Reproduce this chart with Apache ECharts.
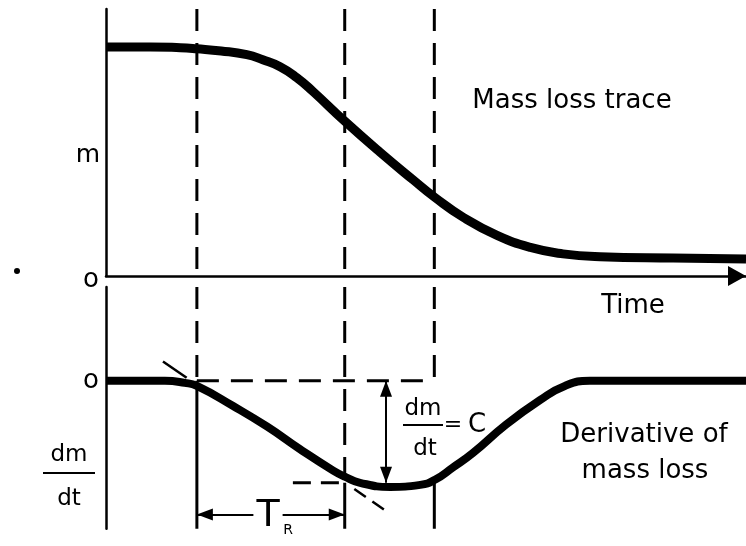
<!DOCTYPE html>
<html>
<head>
<meta charset="utf-8">
<script src="https://cdn.jsdelivr.net/npm/echarts@6/dist/echarts.min.js"></script>
<style>
html, body { margin: 0; padding: 0; background: #fff; }
#chart { width: 746px; height: 546px; }
</style>
</head>
<body>
<div id="chart"></div>
<script>
// mass loss trace, time in % of the sweep
var massTime  = [0, 6.9, 11.6, 14.2, 18, 22, 24.5, 27.2, 29.8, 32.3, 37.3, 42.8, 48, 51.4, 55.8, 61.1, 66.3, 71.4, 77.2, 88.6, 100];
var massValue = [85.8, 85.8, 85.5, 85.1, 84.3, 82.9, 81.0, 78.4, 74.3, 69.2, 58.0, 46.4, 36, 29.4, 22.0, 15.2, 10.7, 8.3, 7.2, 6.7, 6.4];

// derivative of mass loss
var rateTime  = [0, 9.2, 12.3, 14.2, 19.8, 25.2, 30.3, 35.5, 37.3, 39.7, 44.4, 49.1, 51.4, 54.2, 57.3, 62.5, 67.8, 71.7, 75.6, 100];
var rateValue = [0, 0, -0.2, -0.5, -2.45, -4.5, -6.7, -8.8, -9.4, -10.0, -10.4, -10.2, -9.7, -8.5, -7.1, -4.3, -1.9, -0.5, 0, 0];

// the three reference times and the two rate levels
var markTimes = [14.2, 37.3, 51.3];
var levelZero = 0;
var levelC = -10;
var levelCStart = 29.2;

// tangent at the start of the reaction (only the ends show)
var tangentA = [[8.9, 1.9], [12.6, 0.3]];
var tangentB = [[38.8, -10.6], [43.6, -12.7]];

// arrows: dm/dt = C and tau_R
var arrowTime = 43.75;
var tauLevel = -13.1;

var topMin = 0, topMax = 100;
var botMin = -14.5, botMax = 9.2;

function pairs(xs, ys) {
	var out = [];
	for (var i = 0; i < xs.length; i++) out.push([xs[i], ys[i]]);
	return out;
}

var font = 'DejaVu Sans';
var ink = '#000';
var dash = [22, 12];

function seg(data, grid, width, type, z) {
	return {
		type: 'line',
		xAxisIndex: grid, yAxisIndex: grid,
		data: data,
		symbol: 'none',
		silent: true,
		z: z || 2,
		lineStyle: { color: ink, width: width, type: type }
	};
}

function curve(xs, ys, grid, width) {
	return {
		type: 'line',
		xAxisIndex: grid, yAxisIndex: grid,
		data: pairs(xs, ys),
		smooth: 0.5,
		smoothConstraint: false,
		symbol: 'none',
		silent: true,
		z: 5,
		lineStyle: { color: ink, width: width, cap: 'butt', join: 'round' }
	};
}

var series = [];

series.push(curve(massTime, massValue, 0, 9));

var rate = curve(rateTime, rateValue, 1, 8);
rate.markLine = {
	silent: true,
	symbol: ['triangle', 'triangle'],
	symbolSize: [12, 16],
	symbolOffset: [[0, 8], [0, 8]],
	label: { show: false },
	lineStyle: { color: ink, width: 2, type: 'solid' },
	data: [
		[{ coord: [arrowTime, levelZero] }, { coord: [arrowTime, levelC] }],
		[{ coord: [markTimes[0], tauLevel] }, { coord: [markTimes[1], tauLevel] }]
	]
};
series.push(rate);

// dashed verticals in the top panel
markTimes.forEach(function (t) {
	series.push(seg([[t, topMax], [t, 1.5]], 0, 3, dash));
});

// verticals in the bottom panel: dashed above, solid below
var dashEnds = [levelZero, levelC, levelZero];
var solidStarts = [levelZero, levelC, levelC];
markTimes.forEach(function (t, i) {
	series.push(seg([[t, botMax], [t, dashEnds[i]]], 1, 3, dash));
	series.push(seg([[t, solidStarts[i]], [t, botMin]], 1, 3, 'solid'));
});

series.push(seg([[markTimes[0], levelZero], [markTimes[2], levelZero]], 1, 3, dash));
series.push(seg([[levelCStart, levelC], [markTimes[1], levelC]], 1, 3, [18, 10]));
series.push(seg(tangentA, 1, 2.5, 'solid'));
series.push(seg(tangentB, 1, 2.5, [14, 8]));

function txt(s, x, y, size, extra) {
	var style = { text: s, x: x, y: y, fill: ink, font: size + 'px "' + font + '"', align: 'center', verticalAlign: 'middle' };
	for (var k in extra || {}) style[k] = extra[k];
	return { type: 'text', z: 100, silent: true, style: style };
}

function bar(x1, x2, y) {
	return { type: 'line', z: 100, silent: true, shape: { x1: x1, y1: y, x2: x2, y2: y }, style: { stroke: ink, lineWidth: 2 } };
}

var graphic = [
	txt('Mass loss trace', 572, 101, 26),
	txt('Time', 633, 306, 26),
	txt('Derivative of', 644, 435, 26),
	txt('mass loss', 645, 471, 26),
	txt('m', 88, 155, 25),
	txt('dm', 69, 455, 23),
	bar(43, 95, 473),
	txt('dt', 69, 499, 23),
	txt('dm', 423, 409, 23),
	bar(403, 443, 425),
	txt('dt', 425, 449, 23),
	txt('=', 453, 425, 22),
	txt('C', 477, 425, 26),
	txt('T', 268, 516, 38, { backgroundColor: '#fff', padding: [0, 3] }),
	txt('R', 288, 530, 14),
	{ type: 'circle', z: 100, silent: true, shape: { cx: 17, cy: 271, r: 3 }, style: { fill: ink } }
];

var axisLineStyle = { color: ink, width: 2.5 };
var zeroLabel = {
	show: true,
	customValues: [0],
	formatter: function () { return 'o'; },
	color: ink,
	fontFamily: font,
	fontSize: 26,
	margin: 7
};

var chart = echarts.init(document.getElementById('chart'));

chart.setOption({
	animation: false,
	backgroundColor: '#fff',
	grid: [
		{ left: 106, right: 0, top: 9, bottom: 270 },
		{ left: 106, right: 0, top: 287, bottom: 17.3 }
	],
	xAxis: [
		{
			gridIndex: 0, type: 'value', min: 0, max: 100,
			axisLine: { show: true, lineStyle: axisLineStyle, symbol: ['none', 'triangle'], symbolSize: [20, 18], symbolOffset: [0, -9] },
			axisTick: { show: false }, axisLabel: { show: false }, splitLine: { show: false }
		},
		{ gridIndex: 1, type: 'value', min: 0, max: 100, show: false }
	],
	yAxis: [
		{
			gridIndex: 0, type: 'value', min: topMin, max: topMax,
			axisLine: { show: true, lineStyle: axisLineStyle },
			axisTick: { show: false }, splitLine: { show: false },
			axisLabel: Object.assign({}, zeroLabel, { verticalAlign: 'top', lineHeight: 8 })
		},
		{
			gridIndex: 1, type: 'value', min: botMin, max: botMax,
			axisLine: { show: true, lineStyle: axisLineStyle },
			axisTick: { show: false }, splitLine: { show: false },
			axisLabel: zeroLabel
		}
	],
	graphic: graphic,
	series: series
});

window.addEventListener('resize', function () { chart.resize(); });
</script>
</body>
</html>
